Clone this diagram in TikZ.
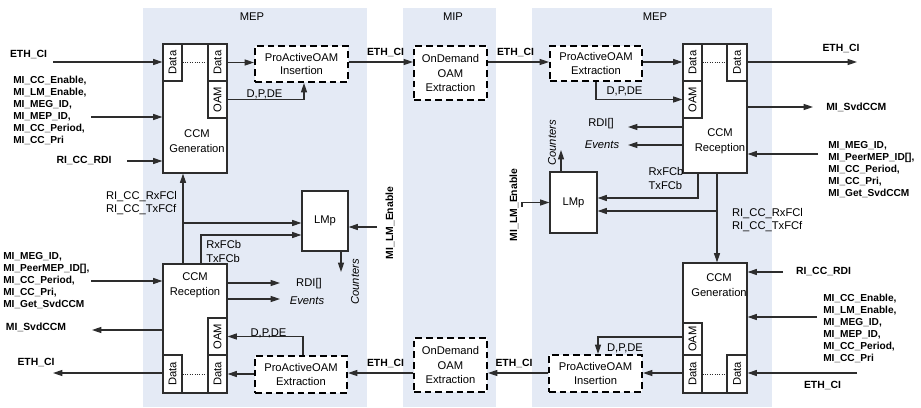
\documentclass[tikz,border=0pt]{standalone}
\usepackage{fontspec}
\setmainfont{Liberation Sans}
\usetikzlibrary{arrows.meta,fit,calc}
\definecolor{panelc}{RGB}{228,234,245}
\definecolor{linec}{RGB}{45,45,45}
\tikzset{
  panel/.style={fill=panelc, draw=none},
  blk/.style={draw=linec, fill=white, line width=0.8pt, inner sep=0pt},
  dbox/.style={draw=black, fill=white, line width=1.5pt, dash pattern=on 5pt off 3pt, inner sep=0pt},
  arr/.style={draw=linec, line width=0.8pt, -{Triangle[length=7pt,width=4.5pt]}},
  dotl/.style={draw=linec, line width=0.6pt, dash pattern=on 0.6pt off 1.2pt},
  txt/.style={font=\fontsize{8.4}{8.6}\selectfont, inner sep=0pt, align=center},
  itxt/.style={txt, font=\fontsize{8.4}{8.6}\selectfont\itshape},
  btxt/.style={font=\fontsize{7.8}{8.8}\selectfont\bfseries, inner sep=0pt, align=left},
  lst/.style={font=\fontsize{7.6}{9}\selectfont\bfseries, inner sep=0pt, align=left, anchor=base west},
  rtxt/.style={txt, rotate=90},
}
\begin{document}
\begin{tikzpicture}[x=0.75pt,y=-0.75pt]
\useasboundingbox (0,0) rectangle (921,407);
% panels
\fill[panel] (143,8) rectangle (367,407);
\fill[panel] (403,8) rectangle (496,407);
\fill[panel] (532,8) rectangle (772,407);
\node[txt] (tmep1) at (252,17) {MEP};
\node[txt] (tmip) at (453,17) {MIP};
\node[txt] (tmep2) at (655,17) {MEP};

% ---------- left MEP ----------
\node[blk, fit={(163,44)(227,173)}] (lgen) {};
\node[blk, fit={(163,44)(182,81)}] (ld1) {};
\node[blk, fit={(208,44)(227,81)}] (ld2) {};
\node[blk, fit={(208,81)(227,118)}] (loam1) {};
\node[rtxt] (tld1) at (ld1.center) {Data};
\node[rtxt] (tld2) at (ld2.center) {Data};
\node[rtxt] (tloam1) at (loam1.center) {OAM};
\draw[dotl] (ld1.east) -- (ld2.west);
\node[txt, font=\fontsize{8.4}{11}\selectfont] (tlgen) at (197,141) {CCM\\Generation};

\node[dbox, fit={(255,46)(348,82)}] (lpi) {};
\node[txt, font=\fontsize{8.4}{10}\selectfont] (tlpi) at (lpi.center) {ProActiveOAM\\Insertion};

\node[blk, fit={(163,264)(227,393)}] (lrec) {};
\node[blk, fit={(163,355)(182,393)}] (lrd1) {};
\node[blk, fit={(208,355)(227,393)}] (lrd2) {};
\node[blk, fit={(208,318)(227,355)}] (loam2) {};
\node[rtxt] (tlrd1) at (lrd1.center) {Data};
\node[rtxt] (tlrd2) at (lrd2.center) {Data};
\node[rtxt] (tloam2) at (loam2.center) {OAM};
\draw[dotl] (lrd1.east) -- (lrd2.west);
\node[txt, font=\fontsize{8.4}{11}\selectfont] (tlrec) at (195,285) {CCM\\Reception};

\node[dbox, fit={(255,356)(347,393)}] (lpe) {};
\node[txt, font=\fontsize{8.4}{10}\selectfont] (tlpe) at (lpe.center) {ProActiveOAM\\Extraction};

\node[blk, fit={(302,191)(348,251)}] (llm) {};
\node[txt] (tllm) at (llm.center) {LMp};

% left inputs
\coordinate (ethA) at (53,62);
\draw[arr] (ethA) -- (ethA -| ld1.west);
\node[btxt] (lethA) at (28.5,55) {ETH\_CI};
\node[lst] (lmiA) at (13,143) {MI\_CC\_Enable,\\MI\_LM\_Enable,\\MI\_MEG\_ID,\\MI\_MEP\_ID,\\MI\_CC\_Period,\\MI\_CC\_Pri};
\coordinate (miA) at (91,117);
\draw[arr] (miA) -- (miA -| lgen.west);
\coordinate (rdiA) at (127,161);
\draw[arr] (rdiA) -- (rdiA -| lgen.west);
\node[btxt] (lrdiA) at (84,161) {RI\_CC\_RDI};

\draw[arr] (ld2.east) -- (ld2.east -| lpi.west);
\coordinate (dpA) at (304,99);
\draw[arr] (loam1.east) -| (dpA |- lpi.south);
\node[txt] (ldpA) at (264.5,94) {D,P,DE};

% left vertical links
\coordinate (vL) at (183,223);
\draw[arr] (vL |- lrec.north) -- (vL |- lgen.south);
\draw[arr] (vL) -- (vL -| llm.west);
\coordinate (vL2) at (201,235);
\draw[arr] (vL2 |- lrec.north) |- (vL2 -| llm.west);
\node[txt, align=left, font=\fontsize{8.4}{10}\selectfont] (lrxA) at (141.5,203) {RI\_CC\_RxFCl\\RI\_CC\_TxFCf};
\node[txt, align=left, anchor=west, font=\fontsize{8.4}{10.5}\selectfont] (lrxB) at (206,251.5) {RxFCb\\TxFCb};

\coordinate (lmeL) at (377,227);
\draw[arr] (lmeL) -- (lmeL -| llm.east);
\node[btxt, rotate=90] (tlmeL) at (390,223) {MI\_LM\_Enable};
\coordinate (cntL) at (341,272);
\draw[arr] (cntL |- llm.south) -- (cntL);
\node[itxt, rotate=90] (tcntL) at (355,282) {Counters};

\coordinate (rdiL) at (280,283);
\draw[arr] (rdiL -| lrec.east) -- (rdiL);
\node[txt] (trdiL) at (309,284) {RDI[]};
\coordinate (evL) at (280,299);
\draw[arr] (evL -| lrec.east) -- (evL);
\node[itxt] (tevL) at (307,301) {Events};

\node[lst] (lmiB) at (3,307) {MI\_MEG\_ID,\\MI\_PeerMEP\_ID[],\\MI\_CC\_Period,\\MI\_CC\_Pri,\\MI\_Get\_SvdCCM};
\coordinate (miB) at (91,281);
\draw[arr] (miB) -- (miB -| lrec.west);
\coordinate (svL) at (92,330);
\draw[arr] (svL -| lrec.west) -- (svL);
\node[btxt] (tsvL) at (36,327) {MI\_SvdCCM};
\coordinate (ethB) at (53,373);
\draw[arr] (ethB -| lrd1.west) -- (ethB);
\node[btxt] (tethB) at (36,362) {ETH\_CI};

\draw[arr] (lpe.west |- lrd2.east) -- (lrd2.east);
\coordinate (dpB) at (303,339);
\draw[arr] (dpB |- lpe.north) |- (loam2.east);
\node[txt] (tdpB) at (268.5,333) {D,P,DE};

% ---------- MIP ----------
\node[dbox, fit={(414,46)(487,100)}] (mt) {};
\node[txt, font=\fontsize{8.4}{11.2}\selectfont] (tmt) at (mt.center) {OnDemand\\OAM\\Extraction};
\node[dbox, fit={(414,338)(487,392)}] (mb) {};
\node[txt, font=\fontsize{8.4}{11.2}\selectfont] (tmb) at (mb.center) {OnDemand\\OAM\\Extraction};
\coordinate (ty) at (0,62);
\coordinate (by) at (0,373);
\draw[arr] (lpi.east |- ty) -- (mt.west |- ty);
\node[btxt] (te1) at (385.5,53) {ETH\_CI};

% ---------- right MEP ----------
\node[dbox, fit={(550,46)(642,81)}] (rpe) {};
\node[txt, font=\fontsize{8.4}{10}\selectfont] (trpe) at (rpe.center) {ProActiveOAM\\Extraction};
\draw[arr] (mt.east |- ty) -- (rpe.west |- ty);
\node[btxt] (te2) at (515.5,53) {ETH\_CI};

\node[blk, fit={(683,44)(747,173)}] (rrec) {};
\node[blk, fit={(683,44)(702,81)}] (rd1) {};
\node[blk, fit={(727,44)(747,81)}] (rd2) {};
\node[blk, fit={(683,81)(702,118)}] (roam1) {};
\node[rtxt] (trd1) at (rd1.center) {Data};
\node[rtxt] (trd2) at (rd2.center) {Data};
\node[rtxt] (troam1) at (roam1.center) {OAM};
\draw[dotl] (rd1.east) -- (rd2.west);
\node[txt, font=\fontsize{8.4}{11}\selectfont] (trrec) at (720,141) {CCM\\Reception};

\draw[arr] (rpe.east |- ty) -- (rd1.west |- ty);
\coordinate (dpC) at (596,99);
\draw[arr] (dpC |- rpe.south) |- (roam1.west);
\node[txt] (tdpC) at (624.5,91) {D,P,DE};

\coordinate (ethC) at (857,62);
\draw[arr] (rd2.east |- ethC) -- (ethC);
\node[btxt] (tethC) at (841,49) {ETH\_CI};
\coordinate (svR) at (813,107);
\draw[arr] (svR -| rrec.east) -- (svR);
\node[btxt, anchor=west] (tsvR) at (826,107) {MI\_SvdCCM};
\coordinate (rdiR) at (628,127);
\draw[arr] (rdiR -| rrec.west) -- (rdiR);
\node[txt] (trdiR) at (601,124) {RDI[]};
\coordinate (evR) at (628,145);
\draw[arr] (evR -| rrec.west) -- (evR);
\node[itxt] (tevR) at (602,145) {Events};
\node[lst] (rmiA) at (828,196) {MI\_MEG\_ID,\\MI\_PeerMEP\_ID[],\\MI\_CC\_Period,\\MI\_CC\_Pri,\\MI\_Get\_SvdCCM};
\coordinate (miC) at (818,154);
\draw[arr] (miC) -- (miC -| rrec.east);

\node[blk, fit={(550,172)(597,233)}] (rlm) {};
\node[txt] (trlm) at (rlm.center) {LMp};
\coordinate (cntR) at (561,150);
\draw[arr] (cntR |- rlm.north) -- (cntR);
\node[itxt, rotate=90] (tcntR) at (552,143) {Counters};
\coordinate (mleR) at (522,207);
\draw[arr] (mleR) |- (rlm.west);
\node[btxt, rotate=90] (tmleR) at (514,205) {MI\_LM\_Enable};

\node[blk, fit={(683,263)(747,393)}] (rgen) {};
\node[blk, fit={(683,355)(702,393)}] (rgd1) {};
\node[blk, fit={(727,355)(747,393)}] (rgd2) {};
\node[blk, fit={(683,323)(702,355)}] (roam2) {};
\node[rtxt] (trgd1) at (rgd1.center) {Data};
\node[rtxt] (trgd2) at (rgd2.center) {Data};
\node[rtxt] (troam2) at (roam2.center) {OAM};
\draw[dotl] (rgd1.east) -- (rgd2.west);
\node[txt, font=\fontsize{8.4}{11}\selectfont] (trgen) at (719,285) {CCM\\Generation};

\coordinate (vR) at (717,211);
\draw[arr] (vR |- rrec.south) -- (vR |- rgen.north);
\draw[arr] (vR) -- (vR -| rlm.east);
\coordinate (vR2) at (698,198);
\draw[arr] (vR2 |- rrec.south) |- (vR2 -| rlm.east);
\node[txt, align=left, font=\fontsize{8.4}{10.5}\selectfont] (trxC) at (666,178.5) {RxFCb\\TxFCb};
\node[txt, align=left, font=\fontsize{8.4}{10}\selectfont] (trxD) at (767.5,220) {RI\_CC\_RxFCl\\RI\_CC\_TxFCf};

\coordinate (rdiS) at (783,272);
\draw[arr] (rdiS) -- (rdiS -| rgen.east);
\node[btxt] (trdiS) at (823.5,272) {RI\_CC\_RDI};
\node[lst] (rmiB) at (823,361) {MI\_CC\_Enable,\\MI\_LM\_Enable,\\MI\_MEG\_ID,\\MI\_MEP\_ID,\\MI\_CC\_Period,\\MI\_CC\_Pri};
\coordinate (miD) at (817,317);
\draw[arr] (miD) -- (miD -| rgen.east);
\coordinate (ethD) at (857,373);
\draw[arr] (ethD) -- (ethD -| rgd2.east);
\node[btxt] (tethD) at (822.5,385) {ETH\_CI};

\node[dbox, fit={(549,355)(642,392)}] (rpi) {};
\node[txt, font=\fontsize{8.4}{10}\selectfont] (trpi) at (rpi.center) {ProActiveOAM\\Insertion};
\draw[arr] (rgd1.west |- by) -- (rpi.east |- by);
\coordinate (dpD) at (598,337);
\draw[arr] (roam2.west |- dpD) -| (dpD |- rpi.north);
\node[txt] (tdpD) at (625,348) {D,P,DE};

\draw[arr] (rpi.west |- by) -- (mb.east |- by);
\node[btxt] (te3) at (514,363) {ETH\_CI};
\draw[arr] (mb.west |- by) -- (lpe.east |- by);
\node[btxt] (te4) at (385.5,363) {ETH\_CI};
\end{tikzpicture}
\end{document}
